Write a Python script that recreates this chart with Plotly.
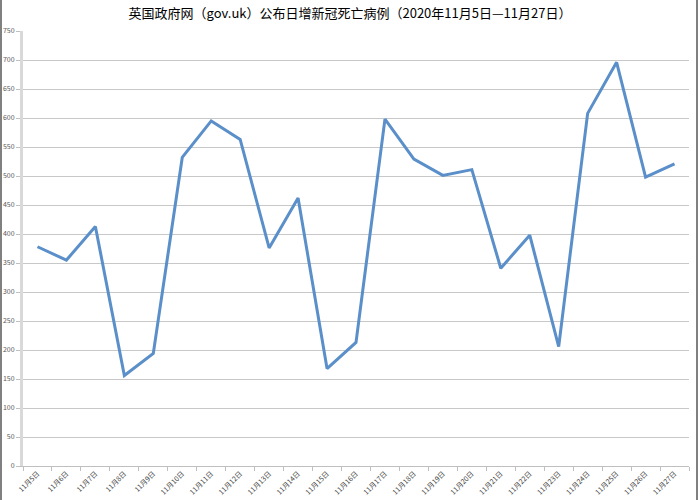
import plotly.graph_objects as go

dates = ["11月5日", "11月6日", "11月7日", "11月8日", "11月9日", "11月10日", "11月11日",
         "11月12日", "11月13日", "11月14日", "11月15日", "11月16日", "11月17日", "11月18日",
         "11月19日", "11月20日", "11月21日", "11月22日", "11月23日", "11月24日", "11月25日",
         "11月26日", "11月27日"]
deaths = [378, 355, 413, 156, 194, 532, 595, 563, 376, 462, 168, 213, 598, 529,
          501, 511, 341, 398, 206, 608, 696, 498, 521]
y_ticks = list(range(0, 751, 50))

title_text = "英国政府网（gov.uk）公布日增新冠死亡病例（2020年11月5日—11月27日）"

W, H = 700, 500
L, R, T, B = 23, 11, 31, 34
pw = W - L - R
ph = H - T - B

fig = go.Figure()
fig.add_trace(go.Scatter(
    x=dates, y=deaths, mode="lines",
    line=dict(color="#5a8fc9", width=3),
    hoverinfo="x+y", showlegend=False,
))

fig.update_layout(
    width=W, height=H,
    margin=dict(l=L, r=R, t=T, b=B),
    paper_bgcolor="white", plot_bgcolor="white",
    font=dict(family="Noto Sans CJK SC, Noto Sans, sans-serif", color="#595959"),
    title=dict(text=title_text, x=0.5, xref="container", xanchor="center",
               y=1 - 13 / H, yanchor="middle",
               font=dict(size=13, color="#000000", family="Noto Sans CJK SC")),
    xaxis=dict(
        type="category", tickangle=-45, tickfont=dict(size=7, color="#404040"),
        showgrid=False, showline=True, linecolor="#bfbfbf", linewidth=1,
        ticks="outside", ticklen=4, tickcolor="#bfbfbf", tickson="boundaries",
        range=[-0.5, len(dates) - 0.5], fixedrange=True, automargin=False,
    ),
    yaxis=dict(
        range=[0, 750], tickvals=y_ticks, tickfont=dict(size=7, color="#595959"),
        showgrid=True, gridcolor="#c8c8c8", gridwidth=1,
        showline=True, linecolor="#d9d9d9", linewidth=3,
        ticks="outside", ticklen=4, tickcolor="#bfbfbf", zeroline=False,
        automargin=False,
    ),
    shapes=[
        dict(type="line", xref="paper", yref="paper",
             x0=(1 - L) / pw, x1=(1 - L) / pw, y0=-B / ph, y1=(H - B) / ph,
             line=dict(color="#808080", width=2)),
        dict(type="line", xref="paper", yref="paper",
             x0=(697 - L) / pw, x1=(697 - L) / pw, y0=-B / ph, y1=(H - B) / ph,
             line=dict(color="#808080", width=2)),
    ],
)

fig.write_html("out.html",
               config={"displayModeBar": False},
               post_script="document.body.style.margin='0';document.body.style.overflow='hidden';")
